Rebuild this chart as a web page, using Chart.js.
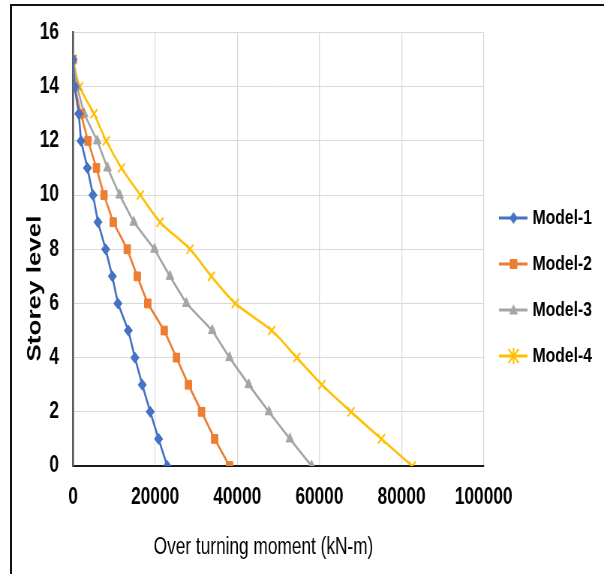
<!DOCTYPE html>
<html>
<head>
<meta charset="utf-8">
<script src="https://cdn.jsdelivr.net/npm/chart.js@4/dist/chart.umd.min.js"></script>
<style>
html,body{margin:0;padding:0;background:#fff;}
#wrap{position:relative;width:604px;height:574px;overflow:hidden;background:#fff;}
/* the reference picture is squeezed horizontally: draw wider, then compress */
#c{position:absolute;left:0;top:0;transform:scaleX(0.7503);transform-origin:0 0;}
#frame{position:absolute;left:10px;top:4px;right:0;bottom:0;border-left:2px solid #111;border-top:2px solid #111;pointer-events:none;}
</style>
</head>
<body>
<div id="wrap"><canvas id="c" width="805" height="574"></canvas><div id="frame"></div></div>
<script>
// ---- data ----
const storeyLevels = [0,1,2,3,4,5,6,7,8,9,10,11,12,13,14,15];
const model1 = [22940,20830,18800,16860,15070,13460,10940,9570,7950,6080,4860,3500,1950,1400,400,0];
const model2 = [38100,34500,31300,28100,25200,22200,18200,15650,13200,9800,7540,5700,3650,1900,400,0];
const model3 = [58100,52800,47700,42800,38100,33900,27600,23600,19850,14800,11350,8400,5900,2700,1000,0];
const model4 = [82600,75100,67700,60600,54500,48400,39500,33700,28500,21200,16400,11800,8100,5100,1600,0];
const seriesNames = ['Model-1','Model-2','Model-3','Model-4'];
const xTickValues = [0,20000,40000,60000,80000,100000];
const yTickValues = [0,2,4,6,8,10,12,14,16];
const xTitle = 'Over turning moment (kN-m)';
const yTitle = 'Storey level';

// ---- styles ----
const SX = 0.7503;               // horizontal squeeze applied to the canvas
const colors = ['#4472C4','#ED7D31','#A5A5A5','#FFC000'];
const FONT = '"Liberation Sans",Arial,sans-serif';

function pts(vals){ return storeyLevels.map((lvl,i)=>({x: vals[i], y: lvl})); }

function legendIcon(kind, color){
  const cv = document.createElement('canvas');
  cv.width = 38; cv.height = 20;
  const g = cv.getContext('2d');
  g.strokeStyle = color; g.fillStyle = color; g.lineWidth = 3;
  g.beginPath(); g.moveTo(0,10); g.lineTo(38,10); g.stroke();
  const cx = 19, cy = 10;
  g.beginPath();
  if (kind === 'diamond'){
    g.moveTo(cx,cy-6); g.lineTo(cx+5.5,cy); g.lineTo(cx,cy+6); g.lineTo(cx-5.5,cy); g.closePath(); g.fill();
  } else if (kind === 'square'){
    g.fillRect(cx-5,cy-5,10,10);
  } else if (kind === 'triangle'){
    g.moveTo(cx,cy-6); g.lineTo(cx+6,cy+4.5); g.lineTo(cx-6,cy+4.5); g.closePath(); g.fill();
  } else {
    g.lineWidth = 2;
    g.moveTo(cx-7,cy-7); g.lineTo(cx+7,cy+7);
    g.moveTo(cx+7,cy-7); g.lineTo(cx-7,cy+7);
    g.moveTo(cx,cy-8); g.lineTo(cx,cy+8);
    g.stroke();
  }
  return cv;
}
const icons = [legendIcon('diamond',colors[0]),legendIcon('square',colors[1]),legendIcon('triangle',colors[2]),legendIcon('star',colors[3])];

const axisTitles = {
  id: 'axisTitles',
  afterDraw(chart){
    const {ctx, chartArea: a} = chart;
    ctx.save();
    ctx.fillStyle = '#000';
    ctx.textAlign = 'center';
    ctx.textBaseline = 'middle';
    ctx.font = '23px ' + FONT;
    ctx.fillText(xTitle, a.left + 190.5 / SX, a.bottom + 82);
    ctx.translate(35 / SX, a.top + 256);
    ctx.rotate(-Math.PI/2);
    ctx.font = 'bold 26px ' + FONT;
    ctx.fillText(yTitle, 0, 0);
    ctx.restore();
  }
};

const datasets = [model1, model2, model3, model4].map((vals,i)=>({
  label: seriesNames[i],
  data: pts(vals),
  showLine: true,
  borderColor: colors[i],
  backgroundColor: colors[i],
  borderWidth: 2.6,
  pointStyle: ['rectRot','rect','triangle','crossRot'][i],
  pointRadius: [5.5,6.2,6,6.5][i],
  pointBorderWidth: i === 3 ? 2 : 1,
  pointBorderColor: colors[i],
  pointBackgroundColor: colors[i],
  tension: i === 3 ? 0.3 : 0
}));

new Chart(document.getElementById('c'), {
  type: 'scatter',
  data: { datasets },
  options: {
    responsive: false,
    animation: false,
    devicePixelRatio: 1,
    layout: { padding: { top: 32, bottom: 32, left: 0, right: 6 } },
    plugins: {
      tooltip: { enabled: false },
      legend: {
        position: 'right',
        align: 'center',
        labels: {
          usePointStyle: true,
          pointStyleWidth: 29.5,
          padding: 25,
          color: '#000',
          font: { family: FONT, size: 21, weight: 'bold' },
          generateLabels(chart){
            return Chart.defaults.plugins.legend.labels.generateLabels(chart).map((l,i)=>Object.assign(l,{pointStyle: icons[i]}));
          }
        }
      }
    },
    scales: {
      x: {
        type: 'linear',
        min: 0, max: 100000,
        afterBuildTicks(s){ s.ticks = xTickValues.map(v=>({value:v})); },
        afterFit(s){ s.height = 76; },
        ticks: {
          color: '#000', padding: 18, maxRotation: 0,
          font: { family: FONT, size: 23, weight: 'bold' },
          callback: v => String(v)
        },
        grid: { color: '#d9d9d9', lineWidth: 1.3, drawTicks: false },
        border: { color: '#1a1a1a', width: 2 }
      },
      y: {
        type: 'linear',
        min: 0, max: 16,
        afterBuildTicks(s){ s.ticks = yTickValues.map(v=>({value:v})); },
        afterFit(s){ s.width = 73 / SX; },
        ticks: {
          color: '#000', padding: 18.7,
          font: { family: FONT, size: 23, weight: 'bold' },
          callback: v => String(v)
        },
        grid: { color: '#d9d9d9', lineWidth: 1, drawTicks: false },
        border: { color: '#595959', width: 2.6 }
      }
    }
  },
  plugins: [axisTitles]
});
</script>
</body>
</html>
